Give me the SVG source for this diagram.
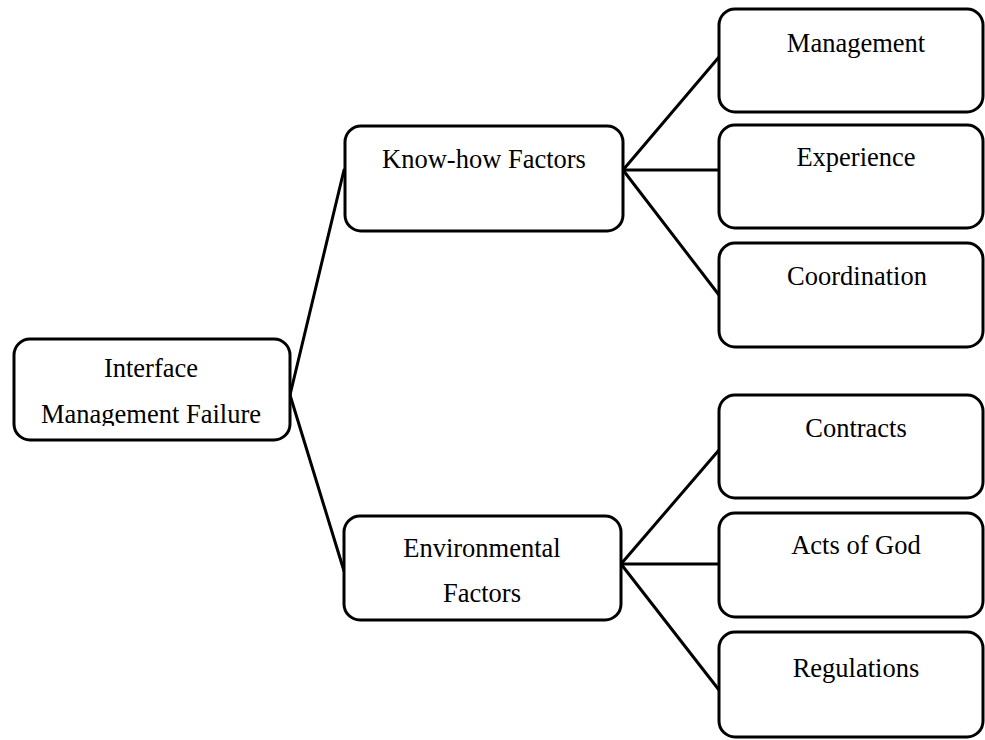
<svg xmlns="http://www.w3.org/2000/svg" width="985" height="740" viewBox="0 0 985 740">
<style>
.box{fill:#fff;stroke:#000;stroke-width:3}
.lbl{font-family:"Liberation Serif","Times New Roman",serif;font-size:26.5px;fill:#000;text-anchor:middle}
.conn line{stroke:#000;stroke-width:3;stroke-linecap:round}
</style>
<defs>
<clipPath id="rootclip"><rect x="14" y="340" width="275" height="86"/></clipPath>
</defs>
<rect width="985" height="740" fill="#fff"/>
<g class="conn">
<line x1="290" y1="395" x2="344" y2="170"/>
<line x1="290" y1="395" x2="344" y2="571"/>
<line x1="623" y1="170" x2="719" y2="57"/>
<line x1="623" y1="170" x2="719" y2="170"/>
<line x1="623" y1="170" x2="719" y2="295"/>
<line x1="621" y1="564" x2="719" y2="450"/>
<line x1="621" y1="564" x2="719" y2="564"/>
<line x1="621" y1="564" x2="719" y2="690"/>
</g>
<g id="root">
<rect class="box" x="14" y="339" width="276" height="101" rx="16"/>
<g clip-path="url(#rootclip)">
<text class="lbl" x="151" y="377">Interface</text>
<text class="lbl" x="151" y="423">Management Failure</text>
</g>
</g>
<g id="knowhow">
<rect class="box" x="345" y="126" width="278" height="105" rx="16"/>
<text class="lbl" x="484" y="168">Know-how Factors</text>
</g>
<g id="environmental">
<rect class="box" x="344" y="516" width="277" height="104" rx="16"/>
<text class="lbl" x="482" y="557">Environmental</text>
<text class="lbl" x="482" y="602">Factors</text>
</g>
<g id="management">
<rect class="box" x="719" y="9" width="264" height="103" rx="16"/>
<text class="lbl" x="856" y="52">Management</text>
</g>
<g id="experience">
<rect class="box" x="719" y="125" width="264" height="103" rx="16"/>
<text class="lbl" x="856" y="166">Experience</text>
</g>
<g id="coordination">
<rect class="box" x="719" y="243" width="264" height="104" rx="16"/>
<text class="lbl" x="857" y="285">Coordination</text>
</g>
<g id="contracts">
<rect class="box" x="719" y="395" width="264" height="103" rx="16"/>
<text class="lbl" x="856" y="437">Contracts</text>
</g>
<g id="actsofgod">
<rect class="box" x="719" y="513" width="264" height="104" rx="16"/>
<text class="lbl" x="856" y="554">Acts of God</text>
</g>
<g id="regulations">
<rect class="box" x="719" y="632" width="264" height="105" rx="16"/>
<text class="lbl" x="856" y="677">Regulations</text>
</g>
</svg>
